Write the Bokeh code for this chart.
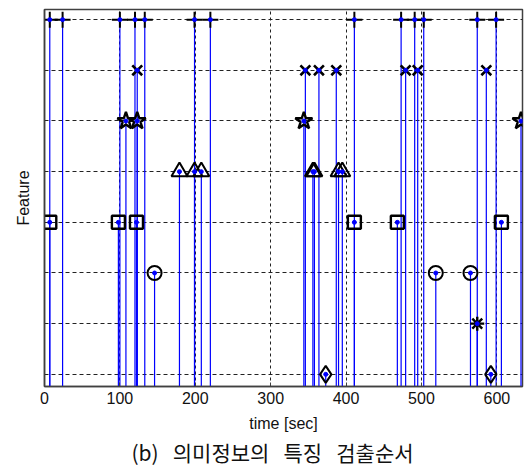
from bokeh.plotting import figure
from bokeh.models import Range1d, FixedTicker, Title, ColumnDataSource
from bokeh.embed import file_html
from bokeh.resources import INLINE

# Detection times (sec) of each semantic feature, by feature level (1..8)
plus_t = [7, 24, 100, 120, 133, 199, 220, 411, 473, 491, 503, 574, 599]      # level 8
xmark_t = [123, 346, 364, 387, 479, 495, 586]                                  # level 7
star_t = [108, 123, 344, 632]                                                  # level 6
tri_t = [179, 199, 208, 356, 358, 390, 395]                                    # level 5
square_t = [7, 98, 122, 411, 468, 606]                                         # level 4
circle_t = [146, 519, 565]                                                     # level 3
aster_t = [574]                                                                # level 2
diamond_t = [373, 592]                                                         # level 1

x_ticks = [0, 100, 200, 300, 400, 500, 600]
y_levels = [1, 2, 3, 4, 5, 6, 7, 8]

series = [
    (plus_t, 8, "cross", 16, 2.0),
    (xmark_t, 7, "x", 14, 2.6),
    (star_t, 6, "star", 18, 2.4),
    (tri_t, 5, "triangle", 16, 2.0),
    (square_t, 4, "square", 13, 2.4),
    (circle_t, 3, "circle", 14, 2.0),
    (aster_t, 2, "asterisk", 14, 2.4),
    (diamond_t, 1, "diamond", 17, 2.0),
]

p = figure(width=524, height=468, output_backend="svg", toolbar_location=None,
           x_range=Range1d(0, 634), y_range=Range1d(0.76, 8.2),
           min_border_left=44, min_border_right=2, min_border_top=9,
           min_border_bottom=82)
p.background_fill_color = "white"
p.border_fill_color = "white"
p.outline_line_color = "#404040"
p.outline_line_width = 1.5

for ts, lvl, mk, sz, lw in series:
    src = ColumnDataSource(dict(t=ts, y0=[0.0] * len(ts), y=[lvl] * len(ts)))
    p.segment(x0="t", y0="y0", x1="t", y1="y", source=src,
              line_color="#0000ff", line_width=1.2)

for ts, lvl, mk, sz, lw in series:
    src = ColumnDataSource(dict(t=ts, y=[lvl] * len(ts)))
    p.scatter(x="t", y="y", source=src, marker=mk, size=sz,
              fill_color=None, line_color="black", line_width=lw)
    p.scatter(x="t", y="y", source=src, marker="circle", size=4,
              fill_color="#0000ff", line_color="#0000ff")

p.xaxis.ticker = FixedTicker(ticks=x_ticks)
p.yaxis.ticker = FixedTicker(ticks=[])
p.xgrid.ticker = FixedTicker(ticks=x_ticks)
p.ygrid.ticker = FixedTicker(ticks=y_levels)
p.xgrid.grid_line_color = "#222222"
p.xgrid.grid_line_dash = "3 3"
p.ygrid.grid_line_color = "#222222"
p.ygrid.grid_line_dash = "4 3"

for ax in (p.xaxis[0], p.yaxis[0]):
    ax.axis_line_color = "#404040"
    ax.axis_line_width = 1.5
    ax.major_tick_in = 4
    ax.major_tick_out = 0
    ax.minor_tick_line_color = None
    ax.major_tick_line_color = "#404040"
    ax.major_label_text_font = "Liberation Sans"
    ax.major_label_text_font_size = "16px"
    ax.major_label_text_color = "#111111"
    ax.axis_label_text_font = "Liberation Sans"
    ax.axis_label_text_font_size = "16px"
    ax.axis_label_text_font_style = "normal"
    ax.axis_label_text_color = "#111111"

p.xaxis.major_label_standoff = 5
p.xaxis.axis_label = "time [sec]"
p.xaxis.axis_label_standoff = 8

p.yaxis.major_label_standoff = 0
p.yaxis.axis_label = "Feature"
p.yaxis.axis_label_standoff = 13

gap = " \u00a0\u00a0"
cap = Title(text="(b)" + gap + "의미정보의" + gap + "특징" + gap + "검출순서",
            align="left", offset=87,
            text_font="Noto Sans CJK KR", text_font_size="21px",
            text_font_style="normal", text_color="#111111", standoff=0)
p.add_layout(cap, "below")

open("out.html", "w").write(file_html(p, INLINE))
